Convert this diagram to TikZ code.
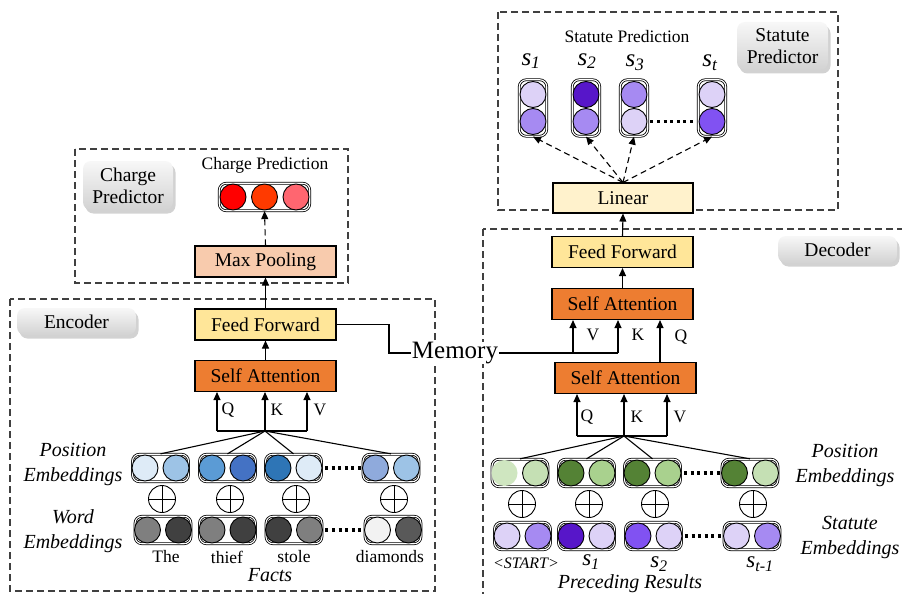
\documentclass[tikz,border=0pt]{standalone}
\usepackage{fontspec}
\setmainfont{Liberation Serif}
\usetikzlibrary{arrows.meta,shadows}
\newcommand\fsMain{\fontsize{19.5}{24}\selectfont}
\newcommand\fsSmall{\fontsize{17.5}{21}\selectfont}
\newcommand\fsLab{\fontsize{20}{25}\selectfont\itshape}
\newcommand\fsQ{\fontsize{17.5}{20}\selectfont}
\newcommand\fsS{\fontsize{25}{30}\selectfont\itshape}
\newcommand\fsSb{\fontsize{23}{27}\selectfont\itshape}
\newcommand\fsMem{\fontsize{25}{30}\selectfont}
\definecolor{ffY}{HTML}{FFE699}
\definecolor{saO}{HTML}{ED7D31}
\definecolor{mpO}{HTML}{F8CBAD}
\definecolor{linY}{HTML}{FFF2CC}
\definecolor{rA}{HTML}{FF0000}
\definecolor{rB}{HTML}{FF3A00}
\definecolor{rC}{HTML}{FF6670}
\definecolor{bA}{HTML}{DEEBF7}
\definecolor{bB}{HTML}{9DC3E6}
\definecolor{bC}{HTML}{5B9BD5}
\definecolor{bD}{HTML}{4472C4}
\definecolor{bE}{HTML}{2E75B6}
\definecolor{bF}{HTML}{8FAADC}
\definecolor{kA}{HTML}{7F7F7F}
\definecolor{kB}{HTML}{404040}
\definecolor{kC}{HTML}{F2F2F2}
\definecolor{kD}{HTML}{595959}
\definecolor{gA}{HTML}{C5E0B4}
\definecolor{gB}{HTML}{A9D18E}
\definecolor{gC}{HTML}{548235}
\definecolor{gP}{HTML}{CFE6C0}
\definecolor{pA}{HTML}{DDD2F7}
\definecolor{pB}{HTML}{A68AF2}
\definecolor{pC}{HTML}{8152F2}
\definecolor{pD}{HTML}{5716C9}
\newcommand\hpair[4]{%
  \node[cont] (#1) at (#2) {};
  \node[emb,fill=#3,xshift=-15.5pt] (#1a) at (#1) {};
  \node[emb,fill=#4,xshift=15.5pt] (#1b) at (#1) {};}
\newcommand\vpair[4]{%
  \node[vcont] (#1) at (#2) {};
  \node[emb,fill=#3,yshift=13.5pt] (#1a) at (#1) {};
  \node[emb,fill=#4,yshift=-13.5pt] (#1b) at (#1) {};}
\begin{document}
\begin{tikzpicture}[x=1pt,y=-1pt,
  box/.style={draw=black,line width=1.1pt,minimum width=141pt,minimum height=31pt,inner sep=0pt,font=\fsMain},
  emb/.style={circle,draw=black,line width=0.9pt,minimum size=26pt,inner sep=0pt},
  cont/.style={draw=black,double=white,double distance=1.1pt,line width=0.8pt,rounded corners=7pt,minimum width=56pt,minimum height=27.5pt,inner sep=0pt},
  vcont/.style={cont,minimum width=27.5pt,minimum height=56.5pt},
  ccont/.style={cont,minimum width=90.5pt},
  plus/.style={circle,draw,line width=0.9pt,minimum size=27pt,inner sep=0pt,
    path picture={\draw[line width=0.9pt] (path picture bounding box.north) -- (path picture bounding box.south) (path picture bounding box.west) -- (path picture bounding box.east);}},
  arr/.style={-{Triangle[length=8pt,width=7pt]},line width=1.1pt},
  darr/.style={arr,dash pattern=on 6pt off 4pt},
  ln/.style={line width=1.1pt},
  dbox/.style={draw=black!75,line width=1.2pt,dash pattern=on 7pt off 4pt},
  glabel/.style={rounded corners=8pt,top color=gray!6,bottom color=gray!35,
    drop shadow={shadow xshift=2.5pt,shadow yshift=-3.5pt,opacity=0.35},
    align=center,font=\fsMain,inner sep=1pt},
  dots/.style={line width=3.2pt,dash pattern=on 3pt off 3.6pt,shorten <=3pt,shorten >=2pt},
  lbl/.style={font=\fsLab,align=center},
  wd/.style={font=\fsSmall},
  qkv/.style={font=\fsQ},
  slab/.style={font=\fsS,inner sep=0pt}]
\useasboundingbox (0,0) rectangle (902,594);
\clip (0,0) rectangle (902,594);
\fill[white] (0,0) rectangle (902,594);

% dashed boxes
\draw[dbox] (10,299) rectangle (435,591);
\draw[dbox] (75,149) rectangle (348,283);
\draw[dbox] (498,12) rectangle (838,210);
\draw[dbox] (483,229) rectangle (912,610);

% gray labels
\node[glabel,minimum width=119pt,minimum height=27pt] (encl) at (76.5,321.5) {Encoder};
\node[glabel,minimum width=119pt,minimum height=27pt] (decl) at (837.5,249.5) {Decoder};
\node[glabel,minimum width=90pt,minimum height=49pt] (cpl) at (128,185.5) {Charge\\[-2pt]Predictor};
\node[glabel,minimum width=91pt,minimum height=48pt] (spl) at (782.5,46) {Statute\\[-2pt]Predictor};

% ---------- encoder ----------
\node[box,fill=ffY] (eff) at (265.5,324.5) {Feed Forward};
\node[box,fill=saO] (esa) at (265.5,376) {Self Attention};
\node[box,fill=mpO] (emp) at (265.5,261.5) {Max Pooling};
\node[ccont] (cc) at (264.5,197) {};
\node[emb,fill=rA,xshift=-31.5pt] (cca) at (cc) {};
\node[emb,fill=rB] (ccb) at (cc) {};
\node[emb,fill=rC,xshift=31.5pt] (ccc) at (cc) {};
\node[font=\fsSmall] (cpt) at (265,165) {Charge Prediction};

\draw[arr] (esa.north) -- (eff.south);
\draw[arr] (eff.north) -- (emp.south);
\draw[darr] (emp.north) -- (cc.south);

\hpair{ep1}{160.5,468}{bA}{bB}
\hpair{ep2}{227.5,468}{bC}{bD}
\hpair{ep3}{293.5,468}{bE}{bA}
\hpair{ep4}{391,468}{bF}{bB}
\hpair{ew1}{163,530}{kA}{kB}
\hpair{ew2}{227.5,530}{kA}{kB}
\hpair{ew3}{294,530}{kB}{kA}
\hpair{ew4}{393,530}{kC}{kD}
\draw[dots] (ep3.east) -- (ep4.west);
\draw[dots] (ew3.east) -- (ew4.west);
\node[plus] (epl1) at (162,499) {};
\node[plus] (epl2) at (230,499) {};
\node[plus] (epl3) at (296,499) {};
\node[plus] (epl4) at (394,499) {};

\coordinate (ej) at (265,431);
\coordinate (eq) at (217,431);
\coordinate (ev) at (307,431);
\draw[ln] (eq) -- (ev);
\draw[arr] (eq) -- (eq |- esa.south);
\draw[arr] (ej) -- (ej |- esa.south);
\draw[arr] (ev) -- (ev |- esa.south);
\foreach \n in {ep1,ep2,ep3,ep4} \draw[ln] (ej) -- (\n.north);
\node[qkv] (eQ) at (228,410) {Q};
\node[qkv] (eK) at (277,410) {K};
\node[qkv] (eV) at (320,410) {V};

\node[lbl] (epos) at (73,465) {Position\\Embeddings};
\node[lbl] (ewrd) at (73,531) {Word\\Embeddings};
\node[wd] (t1) at (166,557) {The};
\node[wd] (t2) at (227,557) {thief};
\node[wd] (t3) at (294,557) {stole};
\node[wd] (t4) at (390,557) {diamonds};
\node[font=\fsLab] (facts) at (270,575) {Facts};

% ---------- statute predictor ----------
\node[box,fill=linY,minimum width=140pt,minimum height=30pt] (lin) at (623,198) {Linear};
\node[font=\fsSmall,inner sep=0pt] (spt) at (627,37) {Statute Prediction};
\vpair{sp1}{533,108}{pA}{pB}
\vpair{sp2}{586,108}{pD}{pB}
\vpair{sp3}{634,108}{pB}{pA}
\vpair{sp4}{712,108}{pA}{pC}
\draw[dots] (sp3b.east) -- (sp4b.west);
\node[slab] (s1) at (531,61) {s\textsubscript{1}};
\node[slab] (s2) at (587,61) {s\textsubscript{2}};
\node[slab] (s3) at (635,63) {s\textsubscript{3}};
\node[slab] (st) at (710,63) {s\textsubscript{t}};
\foreach \n in {sp1,sp2,sp3,sp4} \draw[darr] (lin.north) -- (\n.south);

% ---------- decoder ----------
\node[box,fill=ffY] (dff) at (622.5,252) {Feed Forward};
\node[box,fill=saO] (dsa2) at (622.5,304) {Self Attention};
\node[box,fill=saO] (dsa1) at (625.5,378) {Self Attention};
\draw[arr] (dsa2.north) -- (dff.south);
\draw[arr] (dff.north) -- (lin.south);

\hpair{dp1}{520,473}{gP,draw=none}{gA}
\hpair{dp2}{586.5,473}{gC}{gB}
\hpair{dp3}{652.5,473}{gC}{gB}
\hpair{dp4}{750,473}{gC}{gA}
\hpair{ds1}{522.5,536}{pA}{pB}
\hpair{ds2}{586.5,536}{pD}{pA}
\hpair{ds3}{653.5,536}{pC}{pA}
\hpair{ds4}{752,536}{pA}{pB}
\draw[dots] (dp3.east) -- (dp4.west);
\draw[dots] (ds3.east) -- (ds4.west);
\node[plus] (dpl1) at (522,504) {};
\node[plus] (dpl2) at (589,504) {};
\node[plus] (dpl3) at (655,504) {};
\node[plus] (dpl4) at (753,504) {};

\coordinate (dj) at (624,436);
\coordinate (dq1) at (577,436);
\coordinate (dv1) at (667,436);
\draw[ln] (dq1) -- (dv1);
\draw[arr] (dq1) -- (dq1 |- dsa1.south);
\draw[arr] (dj) -- (dj |- dsa1.south);
\draw[arr] (dv1) -- (dv1 |- dsa1.south);
\foreach \n in {dp1,dp2,dp3,dp4} \draw[ln] (dj) -- (\n.north);
\node[qkv] (dQ1) at (587,417) {Q};
\node[qkv] (dK1) at (637,417) {K};
\node[qkv] (dV1) at (680,417) {V};

\coordinate (dq2) at (660,362.5);
\draw[arr] (dq2) -- (dq2 |- dsa2.south);
\node[qkv] (dV2) at (593,335) {V};
\node[qkv] (dK2) at (638,335) {K};
\node[qkv] (dQ2) at (681,337) {Q};

\node[lbl] (dpos) at (845,466) {Position\\Embeddings};
\node[lbl] (dstat) at (850,538) {Statute\\Embeddings};
\node[font=\fontsize{16}{19}\selectfont\itshape] (tst) at (526,563) {<START>};
\node[font=\fsSb] (b1) at (591,562) {s\textsubscript{1}};
\node[font=\fsSb] (b2) at (659,564) {s\textsubscript{2}};
\node[font=\fsSb] (b3) at (760,564) {s\textsubscript{t-1}};
\node[font=\fsLab] (prec) at (630,584) {Preceding Results};

% ---------- memory ----------
\node[font=\fsMem,fill=white,inner sep=0.5pt] (mem) at (455,353) {Memory};
\coordinate (mbend) at (389,324.5);
\draw[ln] (eff.east) -- (mbend) |- (mem.west);
\coordinate (dv) at (573,353);
\coordinate (dk) at (618,353);
\draw[ln] (mem.east) -- (dk);
\draw[arr] (dv) -- (dv |- dsa2.south);
\draw[arr] (dk) -- (dk |- dsa2.south);
\end{tikzpicture}
\end{document}
